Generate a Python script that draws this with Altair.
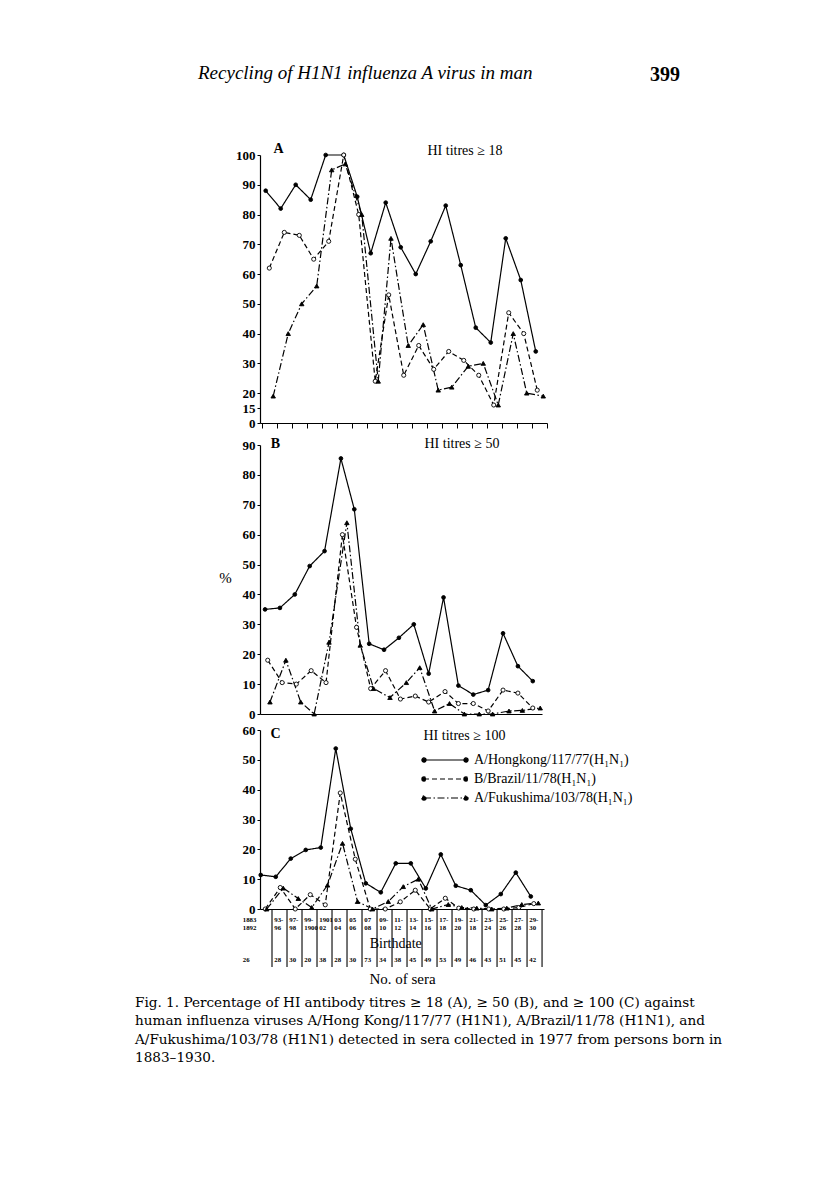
import altair as alt
import pandas as pd

SERIES = ["A/Hongkong/117/77(H₁N₁)", "B/Brazil/11/78(H₁N₁)", "A/Fukushima/103/78(H₁N₁)"]
KEYS = ["HK", "BR", "FU"]

# ---------------- Panel A : HI titres >= 18 ----------------
a_hk_x = [0, 1, 2, 3, 4, 5.2, 6.1, 7, 8, 9, 10, 11, 12, 13, 14, 15, 16, 17, 18]
a_hk_y = [88, 82, 90, 85, 100, 100, 86, 67, 84, 69, 60, 71, 83, 63, 42, 37, 72, 58, 34]
a_br_x = [0.24, 1.24, 2.24, 3.2, 4.2, 5.2, 6.2, 7.3, 8.2, 9.2, 10.2, 11.2, 12.2, 13.2, 14.2, 15.2, 16.2, 17.2, 18.1]
a_br_y = [62, 74, 73, 65, 71, 100, 80, 24, 53, 26, 36, 28, 34, 31, 26, 16, 47, 40, 21]
a_fu_x = [0.5, 1.5, 2.4, 3.4, 4.4, 5.3, 6.4, 7.5, 8.35, 9.5, 10.5, 11.5, 12.4, 13.5, 14.5, 15.5, 16.5, 17.4, 18.5]
a_fu_y = [19, 40, 50, 56, 95, 97, 80, 24, 72, 36, 43, 21, 22, 29, 30, 16, 40, 20, 19]

# ---------------- Panel B : HI titres >= 50 ----------------
b_hk_x = [0, 1, 2, 3, 4, 5.1, 6, 7, 8, 9, 10, 11, 12, 13, 14, 15, 16, 17, 18]
b_hk_y = [35, 35.5, 40, 49.5, 54.5, 85.5, 68.5, 23.5, 21.5, 25.5, 30, 13.5, 39, 9.5, 6.5, 8, 27, 16, 11]
b_br_x = [0.18, 1.15, 2.1, 3.1, 4.1, 5.2, 6.15, 7.1, 8.1, 9.1, 10.1, 11, 12.1, 13, 14, 15, 16, 17, 18]
b_br_y = [18, 10.5, 10, 14.5, 10.5, 60, 29, 8.5, 14.5, 5, 6, 4, 7.5, 3.5, 3.5, 1, 8, 7, 2]
b_fu_x = [0.33, 1.4, 2.4, 3.3, 4.3, 5.5, 6.4, 7.3, 8.4, 9.5, 10.4, 11.4, 12.4, 13.4, 14.4, 15.3, 16.4, 17.3, 18.5]
b_fu_y = [4, 18, 4, 0, 24, 64, 23, 8.5, 5.5, 10.5, 15.5, 1, 3.5, 0, 0, 0, 1, 1.2, 2]

# ---------------- Panel C : HI titres >= 100 ----------------
c_hk_x = [0, 1, 2, 3, 4, 5, 6, 7, 8, 9, 10, 11, 12, 13, 14, 15, 16, 17, 18]
c_hk_y = [11.4, 10.8, 16.9, 19.8, 20.6, 53.8, 26.9, 8.6, 5.6, 15.3, 15.3, 6.9, 18.3, 7.8, 6.3, 1.3, 5, 12.2, 4.2]
c_br_x = [0.3, 1.3, 2.3, 3.3, 4.3, 5.3, 6.3, 7.3, 8.3, 9.3, 10.3, 11.3, 12.3, 13.2, 14.2, 15.2, 16.2, 17.2, 18.2]
c_br_y = [0, 7.2, 0, 4.8, 1.4, 38.9, 16.7, 0, 0, 2.4, 6.3, 0, 3.6, 0.3, 0, 0, 0, 0.5, 1.8]
c_fu_x = [0.4, 1.5, 2.5, 3.4, 4.45, 5.45, 6.45, 7.45, 8.5, 9.5, 10.5, 11.4, 12.5, 13.4, 14.4, 15.4, 16.4, 17.4, 18.5]
c_fu_y = [0, 7, 3.5, 0.5, 8, 22, 2.5, 0, 2.5, 7.5, 10, 0, 1.5, 0.5, 0.3, 0, 0.3, 1.5, 2]

# ---------------- Table under panel C ----------------
birth_top = ["1883", "93-", "97-", "99-", "1901", "03", "05", "07", "09-", "11-", "13-", "15-",
             "17-", "19-", "21-", "23-", "25-", "27-", "29-"]
birth_bot = ["1892", "96", "98", "1900", "02", "04", "06", "08", "10", "12", "14", "16",
             "18", "20", "18", "24", "26", "28", "30"]
n_sera = [26, 28, 30, 20, 38, 28, 30, 73, 34, 38, 45, 49, 53, 49, 46, 43, 51, 45, 42]

HEADER = "Recycling of H1N1 influenza A virus in man"
PAGE = "399"
CAPTION = [
    "Fig. 1. Percentage of HI antibody titres ≥ 18 (A), ≥ 50 (B), and ≥ 100 (C) against",
    "human influenza viruses A/Hong Kong/117/77 (H1N1), A/Brazil/11/78 (H1N1), and",
    "A/Fukushima/103/78 (H1N1) detected in sera collected in 1977 from persons born in",
    "1883–1930.",
]

SERIF = "Liberation Serif"
CAPFONT = "DejaVu Serif"


def panel_df(xs, ys):
    rows = []
    for s, k, xx, yy in zip(SERIES, KEYS, xs, ys):
        for a, b in zip(xx, yy):
            rows.append({"series": s, "grp": k, "x": a, "y": b})
    return pd.DataFrame(rows)


dash_scale = alt.Scale(domain=SERIES, range=[[1, 0], [5, 3], [7, 2.5, 1.5, 2.5]])
shape_scale = alt.Scale(domain=KEYS, range=["circle", "circle", "triangle-up"])
fill_scale = alt.Scale(domain=KEYS, range=["black", "white", "black"])
size_scale = alt.Scale(domain=KEYS, range=[14, 20, 18])


def make_panel(df, yenc, xdom, width, height, letter, letter_xy, hi_text, hi_xy,
               tick_values=None, legend=None, title=None):
    xscale = alt.Scale(domain=xdom, nice=False, zero=False)
    bkw = dict(
        title=hi_text, titleX=hi_xy[0], titleY=hi_xy[1], titleAlign="left",
        titleBaseline="middle", titleFontSize=14, titleFontWeight="normal",
        labels=False, ticks=tick_values is not None,
        tickSize=5, domain=True, grid=False,
    )
    if tick_values is not None:
        bkw["values"] = tick_values
    bottom_axis = alt.Axis(**bkw)
    top_axis = alt.Axis(
        orient="top", title=letter, titleX=letter_xy[0], titleY=letter_xy[1],
        titleAlign="center", titleBaseline="middle", titleFontSize=14,
        titleFontWeight="bold", labels=False, ticks=False, domain=False, grid=False,
    )
    line = alt.Chart(df).mark_line(color="black", strokeWidth=1.2).encode(
        x=alt.X("x:Q", scale=xscale, axis=bottom_axis),
        y=yenc,
        strokeDash=alt.StrokeDash("series:N", scale=dash_scale, legend=legend),
        order=alt.Order("x:Q"),
    )
    pts = alt.Chart(df).mark_point(filled=True, stroke="black", strokeWidth=0.9, opacity=1).encode(
        x=alt.X("x:Q", scale=xscale, axis=top_axis),
        y=yenc,
        shape=alt.Shape("grp:N", scale=shape_scale, legend=None),
        fill=alt.Fill("grp:N", scale=fill_scale, legend=None),
        size=alt.Size("grp:N", scale=size_scale, legend=None),
    )
    ch = alt.layer(line, pts).resolve_scale(x="independent").properties(width=width, height=height)
    if title is not None:
        ch = ch.properties(title=title)
    return ch


yaxis_common = dict(grid=False, labelOverlap=False, tickSize=3, labelPadding=2)

yA = alt.Y("y:Q",
           scale=alt.Scale(domain=[0, 15, 100], range=[268, 253, 0], nice=False, zero=False),
           axis=alt.Axis(values=[0, 15, 20, 30, 40, 50, 60, 70, 80, 90, 100], title=None, **yaxis_common))
yB = alt.Y("y:Q", scale=alt.Scale(domain=[0, 90], nice=False),
           axis=alt.Axis(values=[0, 10, 20, 30, 40, 50, 60, 70, 80, 90], title="%", titleAngle=0,
                         titleX=-35, titleY=132, titleAlign="center", titleBaseline="middle",
                         titleFontSize=15, titleFontWeight="normal", **yaxis_common))
yC = alt.Y("y:Q", scale=alt.Scale(domain=[0, 60], nice=False),
           axis=alt.Axis(values=[0, 10, 20, 30, 40, 50, 60], title=None, **yaxis_common))

a_ticks = [round(i + 0.72, 2) for i in range(-1, 19)]

header_title = alt.TitleParams(
    HEADER, anchor="start", frame="group", dx=-62, offset=43, font=SERIF, fontSize=19,
    fontStyle="italic", fontWeight="normal", color="black", baseline="alphabetic",
)

panelA = make_panel(panel_df([a_hk_x, a_br_x, a_fu_x], [a_hk_y, a_br_y, a_fu_y]), yA,
                    [-0.38, 18.75], 287, 268, "A", (18, -7), "HI titres ≥ 18", (167, -273),
                    tick_values=a_ticks, title=header_title)
panelB = make_panel(panel_df([b_hk_x, b_br_x, b_fu_x], [b_hk_y, b_br_y, b_fu_y]), yB,
                    [-0.34, 18.62], 282, 269, "B", (15, -2), "HI titres ≥ 50", (164, -271))

# legend symbol: a line with a small marker at each end
LEG_SYMBOL = ("M-3,0H3"
              "M-3.3,0a0.3,0.3 0 1,0 0.6,0a0.3,0.3 0 1,0 -0.6,0"
              "M2.7,0a0.3,0.3 0 1,0 0.6,0a0.3,0.3 0 1,0 -0.6,0")
legendC = alt.Legend(
    title=None, orient="none", legendX=177, legendY=22, symbolType=LEG_SYMBOL, symbolSize=196,
    symbolStrokeWidth=1.2, symbolStrokeColor="black", symbolFillColor="black",
    labelOffset=21, labelFont=SERIF, labelFontSize=14, labelColor="black", rowPadding=4, padding=0,
)
xdomC = [-0.05, 18.88]
panelC = make_panel(panel_df([c_hk_x, c_br_x, c_fu_x], [c_hk_y, c_br_y, c_fu_y]), yC,
                    xdomC, 284, 179, "C", (15, 3), "HI titres ≥ 100", (163, -174), legend=legendC)

# ---------------- table ----------------
trows = []
for i in range(len(birth_top)):
    trows.append({"i": i, "row": "yr1", "label": birth_top[i]})
    trows.append({"i": i, "row": "yr2", "label": birth_bot[i]})
    trows.append({"i": i, "row": "n", "label": str(n_sera[i])})
tlong = pd.DataFrame(trows)
tcols = pd.DataFrame({"i": list(range(len(birth_top)))})

xsT = alt.Scale(domain=xdomC, nice=False, zero=False)
tbl_axis = alt.Axis(title="No. of sera", labels=False, ticks=False, domain=False, grid=False,
                    titleFontSize=15, titleFontWeight="normal", titlePadding=4)
row_scale = alt.Scale(domain=["yr1", "yr2", "g1", "bd", "g2", "n"], range=[10.5, 50.5], padding=0)

seps = alt.Chart(tcols).transform_calculate(sep="datum.i + 0.75").mark_rule(
    color="black", strokeWidth=1.1).encode(x=alt.X("sep:Q", scale=xsT, axis=tbl_axis))
cells = alt.Chart(tlong).transform_calculate(
    tx="datum.i == 0 ? -1.2 : datum.i - 0.1").mark_text(
    align="left", baseline="middle", fontSize=6.8, fontWeight="bold", font=SERIF, color="black"
).encode(
    x=alt.X("tx:Q", scale=xsT, axis=tbl_axis),
    y=alt.Y("row:N", scale=row_scale, axis=None),
    text="label:N",
)
bd = alt.Chart(tcols).mark_text(text="Birthdate", fontSize=14, font=SERIF, color="black",
                                baseline="middle").encode(
    x=alt.X("mean(i):Q", scale=xsT, axis=tbl_axis),
    y=alt.YDatum("bd", type="nominal", scale=row_scale, axis=None),
)
caption_title = alt.TitleParams(
    CAPTION, orient="bottom", anchor="start", frame="group", dx=-125, offset=10, font=CAPFONT,
    fontSize=13.6, lineHeight=18.3, fontWeight="normal", color="black", align="left",
    baseline="top",
)
table = alt.layer(seps, cells, bd).properties(width=284, height=58, title=caption_title)

indep = dict(x="independent", y="independent", strokeDash="independent", shape="independent",
             fill="independent", size="independent")
lowerC = alt.vconcat(panelC, table, spacing=0, bounds="flush").resolve_scale(**indep)
lowerB = alt.vconcat(panelB, lowerC, spacing=16, bounds="flush").resolve_scale(**indep)

chart = alt.vconcat(panelA, lowerB, spacing=22, bounds="flush").resolve_scale(**indep).properties(
    title=alt.TitleParams(PAGE, anchor="end", frame="bounds", dx=-42, offset=-37, font=SERIF,
                          fontSize=20, fontWeight="bold", color="black", baseline="alphabetic"),
    padding={"left": 127, "top": 56, "right": 5, "bottom": 5},
    background="white",
).configure_view(stroke=None).configure_axis(
    labelFont=SERIF, labelFontWeight="bold", labelFontSize=13, labelColor="black",
    titleFont=SERIF, titleColor="black", tickColor="black", domainColor="black",
    domainWidth=1.2, tickWidth=1,
)

chart.save("out.html", embed_options={"renderer": "svg", "actions": False})
